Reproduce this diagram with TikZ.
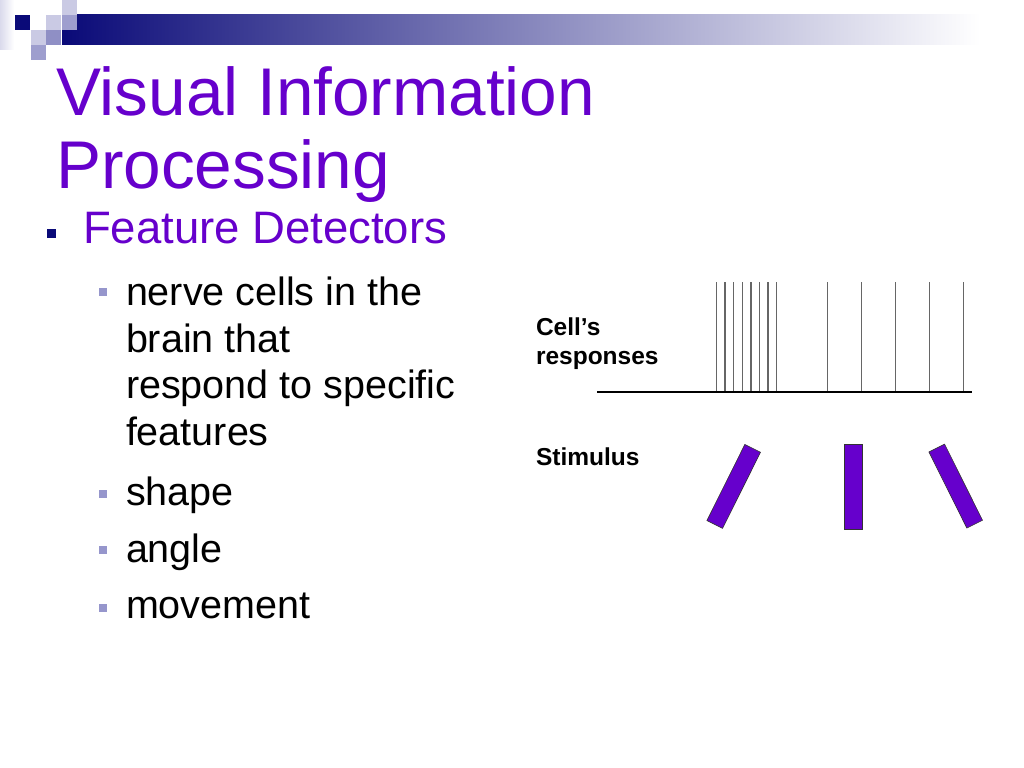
\documentclass[tikz,border=0pt]{standalone}
\usepackage{fontspec}
\setmainfont{Liberation Sans}
\usetikzlibrary{positioning}
\definecolor{dpurple}{RGB}{102,0,204}
\definecolor{dnavy}{RGB}{10,10,120}
\definecolor{lblue}{RGB}{202,202,228}
\definecolor{mblue}{RGB}{158,158,206}
\definecolor{bblue}{RGB}{150,150,204}

\begin{document}
\begin{tikzpicture}[x=1bp, y=-1bp,
    txt/.style={anchor=base west, inner sep=0pt, outer sep=0pt},
    ttl/.style={txt, dpurple, font=\fontsize{67.5bp}{70bp}\selectfont},
    lvl1/.style={txt, dpurple, font=\fontsize{45.5bp}{48bp}\selectfont},
    lvl2/.style={txt, black, font=\fontsize{39.5bp}{47bp}\selectfont},
    lbl/.style={txt, black, font=\bfseries\fontsize{24.5bp}{29bp}\selectfont},
    bulA/.style={fill=dnavy, minimum size=9bp, inner sep=0pt},
    bulB/.style={fill=bblue, minimum size=8bp, inner sep=0pt},
    spike/.style={black!60, line width=1.3bp},
    stimbar/.style={draw=black!80, fill=dpurple, line width=0.6bp, minimum width=17.5bp, minimum height=85bp, inner sep=0pt}]
\useasboundingbox (0,0) rectangle (1024,768);
% corner squares and bar
\shade[left color=lblue!70, right color=white] (0,0) rectangle (14,50);
\shade[left color=dnavy, middle color=dnavy!25!white, right color=white] (62,15) rectangle (980,45);
\fill[dnavy] (15,15) rectangle (30,30);
\fill[lblue] (62,0) rectangle (77,15);
\fill[lblue] (46,15) rectangle (61,30);
\fill[mblue] (62,15) rectangle (77,30);
\fill[lblue] (31,30) rectangle (46,45);
\fill[mblue!90!dnavy] (46,30) rectangle (61,45);
\fill[mblue] (31,45) rectangle (46,60);
% title
\node[ttl] (title1) at (56,115) {Visual Information};
\node[ttl] (title2) at (56,188) {Processing};
% bullets
\node[bulA] (b0) at (51.5,233.5) {};
\node[lvl1] (feat) at (83,243) {Feature Detectors};
\node[bulB] (b1) at (103,291.5) {};
\node[lvl2] (def1) at (126,305) {nerve cells in the};
\node[lvl2] (def2) at (126,352) {brain that};
\node[lvl2] (def3) at (126,398) {respond to specific};
\node[lvl2] (def4) at (126,445) {features};
\node[bulB] (b2) at (103,493.5) {};
\node[lvl2] (shape) at (126,505) {shape};
\node[bulB] (b3) at (103,550) {};
\node[lvl2] (angle) at (126,562) {angle};
\node[bulB] (b4) at (103,608) {};
\node[lvl2] (move) at (126,618) {movement};
% chart labels
\node[lbl] (cell) at (536,335) {Cell’s};
\node[lbl] (resp) at (536,364) {responses};
\node[lbl] (stim) at (536,465) {Stimulus};
% spikes
\coordinate (axisL) at (597,392);
\coordinate (axisR) at (972,392);
\foreach \x in {716.7,725,733.7,742.3,751,759.7,768,776.3,827.3,861.7,895.7,929.7,963.7} {
    \draw[spike] (\x,282) -- (\x,392);
}
\draw[black, line width=1.3bp] (axisL) -- (axisR);
% stimulus bars
\node[stimbar, rotate=-26.5] (stim1) at (733.7,486.4) {};
\node[stimbar] (stim2) at (853.2,486.7) {};
\node[stimbar, rotate=26.5] (stim3) at (955.7,486.1) {};
\end{tikzpicture}
\end{document}
